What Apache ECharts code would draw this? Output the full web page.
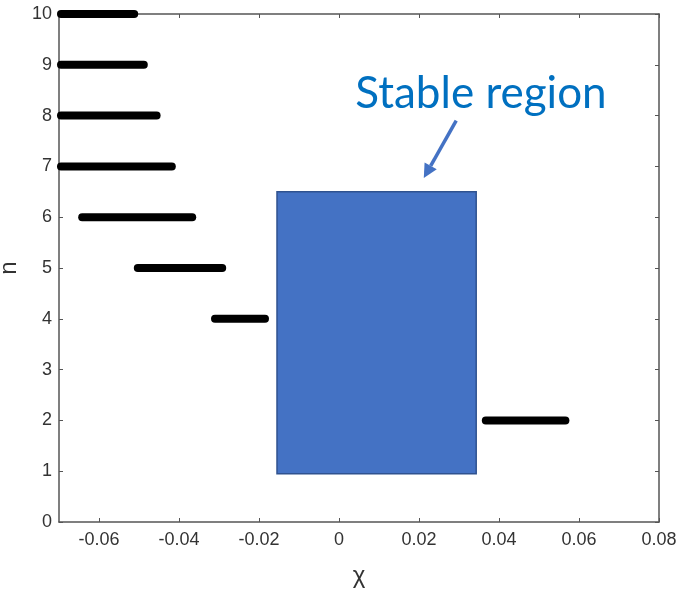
<!DOCTYPE html>
<html>
<head>
<meta charset="utf-8">
<script src="https://cdn.jsdelivr.net/npm/echarts@6/dist/echarts.min.js"></script>
<style>
  html, body { margin: 0; padding: 0; background: #fff; }
  #chart { width: 680px; height: 592px; }
</style>
</head>
<body>
<div id="chart"></div>
<script>
// Unstable bands: for each mode number n, the range of chi where it occurs
const nLevels = [10, 9, 8, 7, 6, 5, 4, 2];
const chiStart = [-0.0695, -0.0695, -0.0695, -0.0695, -0.0642, -0.0503, -0.0310, 0.0367];
const chiEnd   = [-0.0512, -0.0488, -0.0456, -0.0418, -0.0367, -0.0292, -0.0185, 0.0566];

// Stable region box (chi range, n range)
const stableChi = [-0.0155, 0.0343];
const stableN = [0.95, 6.5];

// Annotation: label anchor and arrow (chi, n)
const noteLabel = 'Stable region';
const notePos = [0.0355, 8.42];
const arrowFrom = [0.0293, 7.9];
const arrowTo = [0.0212, 6.77];

// Axis ranges and tick values
const xRange = [-0.07, 0.08];
const xTickValues = [-0.06, -0.04, -0.02, 0, 0.02, 0.04, 0.06, 0.08];
const yRange = [0, 10];
const yTickValues = [0, 1, 2, 3, 4, 5, 6, 7, 8, 9, 10];

const segData = nLevels.map((n, i) => [chiStart[i], chiEnd[i], n]);

const axisColor = '#555';
const labelFont = { fontFamily: 'Liberation Sans', fontSize: 18, color: '#333' };

function xFmt(v) {
  const r = Math.round(v * 100) / 100;
  if (Math.abs(r) < 1e-9) return '0';
  return r.toFixed(2);
}

const chart = echarts.init(document.getElementById('chart'), null, { renderer: 'canvas' });

function frameAxis(position, range, ticks, extra) {
  return Object.assign({
    type: 'value', position: position,
    min: range[0], max: range[1],
    axisLine: { show: true, onZero: false, lineStyle: { color: axisColor, width: 1.5 } },
    axisTick: { show: true, inside: true, length: 4, customValues: ticks, lineStyle: { color: axisColor } },
    splitLine: { show: false },
    axisLabel: { show: false }
  }, extra || {});
}

const option = {
  animation: false,
  backgroundColor: '#fff',
  grid: { left: 59, right: 21, top: 14, bottom: 70, containLabel: false, outerBoundsMode: 'none' },
  xAxis: [
    frameAxis('bottom', xRange, xTickValues, {
      axisLabel: Object.assign({ show: true, margin: 9, customValues: xTickValues, formatter: xFmt }, labelFont),
      name: 'χ', nameLocation: 'middle', nameGap: 42,
      nameTextStyle: { fontFamily: 'Liberation Sans', fontSize: 24, color: '#333' }
    }),
    frameAxis('top', xRange, xTickValues)
  ],
  yAxis: [
    frameAxis('left', yRange, yTickValues, {
      axisLabel: Object.assign({ show: true, margin: 7, customValues: yTickValues }, labelFont),
      name: 'n', nameLocation: 'middle', nameGap: 35,
      nameTextStyle: { fontFamily: 'Liberation Sans', fontSize: 24, color: '#333' }
    }),
    frameAxis('right', yRange, yTickValues)
  ],
  series: [
    {
      // stable region rectangle
      type: 'custom',
      xAxisIndex: 0, yAxisIndex: 0,
      data: [[stableChi[0], stableChi[1], stableN[0], stableN[1]]],
      renderItem: function (params, api) {
        const p0 = api.coord([api.value(0), api.value(3)]);
        const p1 = api.coord([api.value(1), api.value(2)]);
        return {
          type: 'rect',
          shape: { x: p0[0], y: p0[1], width: p1[0] - p0[0], height: p1[1] - p0[1] },
          style: { fill: '#4472C4', stroke: '#2F528F', lineWidth: 1.5 }
        };
      },
      z: 2
    },
    {
      // horizontal bands for each n
      type: 'custom',
      xAxisIndex: 0, yAxisIndex: 0,
      data: segData,
      renderItem: function (params, api) {
        const a = api.coord([api.value(0), api.value(2)]);
        const b = api.coord([api.value(1), api.value(2)]);
        return {
          type: 'line',
          shape: { x1: a[0], y1: a[1], x2: b[0], y2: b[1] },
          style: { stroke: '#000', lineWidth: 8, lineCap: 'round' }
        };
      },
      z: 3
    },
    {
      // annotation arrow and label
      type: 'custom',
      xAxisIndex: 0, yAxisIndex: 0,
      clip: false,
      data: [[arrowFrom[0], arrowFrom[1], arrowTo[0], arrowTo[1], notePos[0], notePos[1]]],
      renderItem: function (params, api) {
        const s = api.coord([api.value(0), api.value(1)]);
        const e = api.coord([api.value(2), api.value(3)]);
        const t = api.coord([api.value(4), api.value(5)]);
        const ang = Math.atan2(e[1] - s[1], e[0] - s[0]);
        const hl = 14, hw = 7;
        const bx = e[0] - hl * Math.cos(ang), by = e[1] - hl * Math.sin(ang);
        const nx = -Math.sin(ang), ny = Math.cos(ang);
        return {
          type: 'group',
          children: [
            {
              type: 'line',
              shape: { x1: s[0], y1: s[1], x2: bx, y2: by },
              style: { stroke: '#4472C4', lineWidth: 3.5 }
            },
            {
              type: 'polygon',
              shape: { points: [[e[0], e[1]], [bx + nx * hw, by + ny * hw], [bx - nx * hw, by - ny * hw]] },
              style: { fill: '#4472C4' }
            },
            {
              type: 'text',
              x: t[0], y: t[1],
              style: {
                text: noteLabel, fill: '#0070C0',
                font: '44px Lato', align: 'center', verticalAlign: 'middle'
              }
            }
          ]
        };
      },
      z: 4
    }
  ]
};

chart.setOption(option);
</script>
</body>
</html>
